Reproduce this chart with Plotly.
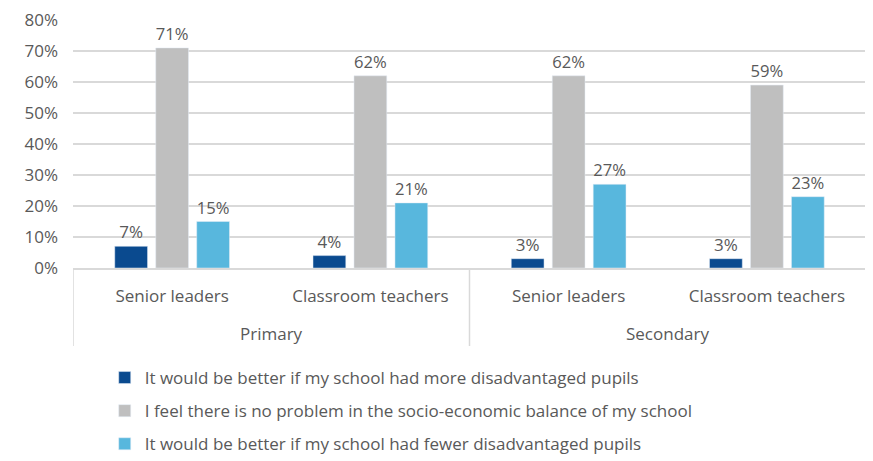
import plotly.graph_objects as go

groups = ["Primary", "Secondary"]
keys = ["P-SL", "P-CT", "S-SL", "S-CT"]
roles = ["Senior leaders", "Classroom teachers", "Senior leaders", "Classroom teachers"]

more_disadv = [0.07, 0.04, 0.03, 0.03]
no_problem = [0.71, 0.62, 0.62, 0.59]
fewer_disadv = [0.15, 0.21, 0.27, 0.23]

series = [
    ("It would be better if my school had more disadvantaged pupils", more_disadv, "#0A4A8F"),
    ("I feel there is no problem in the socio-economic balance of my school", no_problem, "#BFBFBF"),
    ("It would be better if my school had fewer disadvantaged pupils", fewer_disadv, "#58B7DD"),
]

grey = "#595959"
line_col = "#D9D9D9"
font = "Open Sans, Liberation Sans, sans-serif"

# page body has an 8px margin, so the figure is made 8px smaller each way
W, H = 865, 453
mt, mb = 12, 193
plot_h = H - mt - mb
bottom = mt + plot_h

fig = go.Figure()
for i, (name, vals, col) in enumerate(series):
    fig.add_bar(
        x=keys, y=vals, name=name, marker_color=col,
        texttemplate="%{y:.0%}", textposition="outside",
        textfont=dict(size=17, color=grey), cliponaxis=False,
        legendgroup=str(i),
    )

# group labels under the role labels
for j, g in enumerate(groups):
    fig.add_annotation(x=2 * j + 0.5, xref="x", y=-(325 - bottom) / plot_h, yref="paper",
                       yanchor="middle", text=g, showarrow=False,
                       font=dict(size=17, color=grey))

# box lines of the category axis
for xv in [-0.5, 1.5, 3.5]:
    fig.add_shape(type="line", xref="x", yref="paper", x0=xv, x1=xv,
                  y0=0, y1=-(338 - bottom) / plot_h,
                  line=dict(color=line_col, width=1.5))

fig.update_layout(
    width=W, height=H,
    margin=dict(l=65, r=7, t=mt, b=mb, autoexpand=False),
    plot_bgcolor="white", paper_bgcolor="white",
    font=dict(family=font, size=17, color=grey),
    barmode="group", bargap=0.38, bargroupgap=0.2,
    showlegend=True,
    legend=dict(
        orientation="v", x=0.040, y=-(352 - bottom) / plot_h, xanchor="left", yanchor="top",
        traceorder="grouped", tracegroupgap=8,
        font=dict(size=17, color=grey),
    ),
)
fig.update_yaxes(
    range=[0, 0.8], dtick=0.1, tickformat=".0%",
    showgrid=True, gridcolor=line_col, gridwidth=1.5,
    zeroline=False, showline=False, ticks="", ticklabelstandoff=14,
    ticklabeloverflow="allow", automargin=False,
)
fig.update_xaxes(
    range=[-0.5, 3.5],
    tickvals=keys, ticktext=roles,
    showline=True, linecolor=line_col, linewidth=1.5,
    showgrid=False, ticks="", ticklabelstandoff=12,
    tickfont=dict(size=17, color=grey), automargin=False,
)

fig.write_html("out.html")
